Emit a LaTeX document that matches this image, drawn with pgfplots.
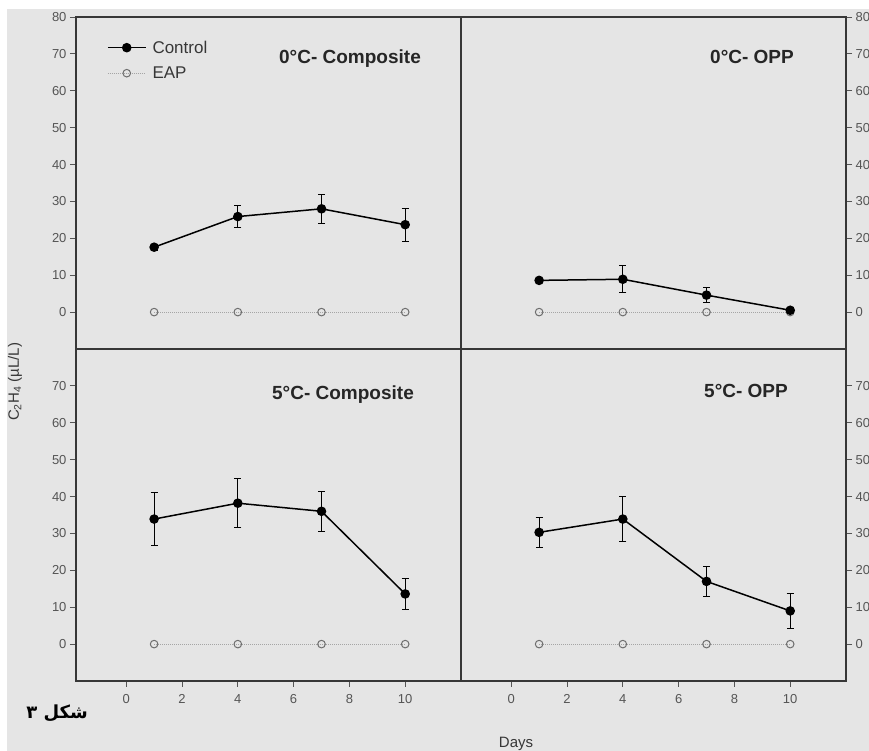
\documentclass[border=0pt]{standalone}
\usepackage{pgfplots}
\pgfplotsset{compat=1.18}
\usepackage{fontspec}
\setmainfont{Liberation Sans}
\newfontfamily\arabicfont[Script=Arabic]{DejaVu Sans}
\TeXXeTstate=1

\definecolor{bg}{RGB}{229,229,229}
\definecolor{axisc}{RGB}{55,55,55}
\definecolor{tickc}{RGB}{85,85,85}
\definecolor{eapc}{RGB}{110,110,110}
\definecolor{eapl}{RGB}{165,165,165}

\pgfplotsset{
  panel/.style={
    scale only axis, width=385pt, height=332pt,
    xmin=-1.8, xmax=12, ymin=-10, ymax=80,
    axis line style={axisc, line width=1.2pt},
    tick style={tickc, line width=0.8pt},
    major tick length=6pt, tick align=outside,
    ticklabel style={font=\fontsize{13}{13}\selectfont, text=tickc},
    xticklabel style={yshift=-4pt},
    /pgf/number format/assume math mode=true,
    xtick={0,2,...,10},
    clip=false,
  },
  ctrl/.style={black, line width=1.5pt, mark=*, mark size=4pt,
    mark options={fill=black, solid},
    error bars/.cd, y dir=both, y explicit,
    error bar style={line width=1pt, black},
    error mark options={rotate=90, mark size=3.5pt, line width=1pt, black}},
  eap/.style={eapl, line width=1pt, densely dotted, mark=o, mark size=3.8pt,
    mark options={solid, draw=eapc, fill=bg, line width=1pt}},
  legend image code/.code={
    \draw[mark repeat=2, mark phase=2, #1] plot coordinates {(0pt,0pt) (19pt,0pt) (38pt,0pt)};},
}

\begin{document}
\begin{tikzpicture}[x=1pt, y=1pt]
\fill[white] (0,0) rectangle (869,751);
\fill[bg] (7,0) rectangle (869,742);

% 0 C - Composite
\begin{axis}[panel, at={(76pt,402pt)}, anchor=south west,
  ytick={0,10,...,80}, xtick=\empty, ytick pos=left,
  legend style={at={(0.08,0.935)}, anchor=north west, draw=none, fill=none,
    font=\fontsize{17}{17}\selectfont, text=axisc, row sep=8pt, column sep=4pt,
    inner sep=0pt},
  legend cell align=left]
\addplot[ctrl] coordinates {(1,17.6) +- (0,0.8) (4,25.9) +- (0,3.0) (7,28.0) +- (0,4.0) (10,23.7) +- (0,4.5)};
\addlegendentry{Control}
\addplot[eap] coordinates {(1,0) (4,0) (7,0) (10,0)};
\addlegendentry{EAP}
\end{axis}

% 0 C - OPP
\begin{axis}[panel, at={(461pt,402pt)}, anchor=south west,
  ytick={0,10,...,80}, xtick=\empty, ytick pos=right, yticklabel pos=right]
\addplot[eap] coordinates {(1,0) (4,0) (7,0) (10,0)};
\addplot[ctrl] coordinates {(1,8.6) +- (0,0.5) (4,8.9) +- (0,3.7) (7,4.6) +- (0,2.1) (10,0.5) +- (0,0.3)};
\end{axis}

% 5 C - Composite
\begin{axis}[panel, at={(76pt,70pt)}, anchor=south west,
  ytick={0,10,...,70}, ytick pos=left, xtick pos=bottom]
\addplot[eap] coordinates {(1,0) (4,0) (7,0) (10,0)};
\addplot[ctrl] coordinates {(1,33.9) +- (0,7.3) (4,38.2) +- (0,6.7) (7,36.0) +- (0,5.5) (10,13.6) +- (0,4.3)};
\end{axis}

% 5 C - OPP
\begin{axis}[panel, at={(461pt,70pt)}, anchor=south west,
  ytick={0,10,...,70}, ytick pos=right, yticklabel pos=right, xtick pos=bottom]
\addplot[eap] coordinates {(1,0) (4,0) (7,0) (10,0)};
\addplot[ctrl] coordinates {(1,30.3) +- (0,4.0) (4,33.9) +- (0,6.2) (7,17.0) +- (0,4.0) (10,9.0) +- (0,4.7)};
\end{axis}

\begin{scope}[every node/.style={font=\bfseries\fontsize{19}{19}\selectfont, text=black!85}]
\node at (350,692) {0°C- Composite};
\node at (752,694) {0°C- OPP};
\node at (343,356) {5°C- Composite};
\node at (746,360) {5°C- OPP};
\end{scope}

\node[rotate=90, font=\fontsize{15}{15}\selectfont, text=axisc] at (15,369)
  {C\textsubscript{2}H\textsubscript{4} (µL/L)};
\node[font=\fontsize{15}{15}\selectfont, text=axisc] at (516,7) {Days};
\node[font=\arabicfont\bfseries\fontsize{18}{18}\selectfont] at (57,38) {\beginR شکل ۳\endR};

\pgfresetboundingbox
\path[use as bounding box] (0,0) rectangle (869,751);
\end{tikzpicture}
\end{document}
